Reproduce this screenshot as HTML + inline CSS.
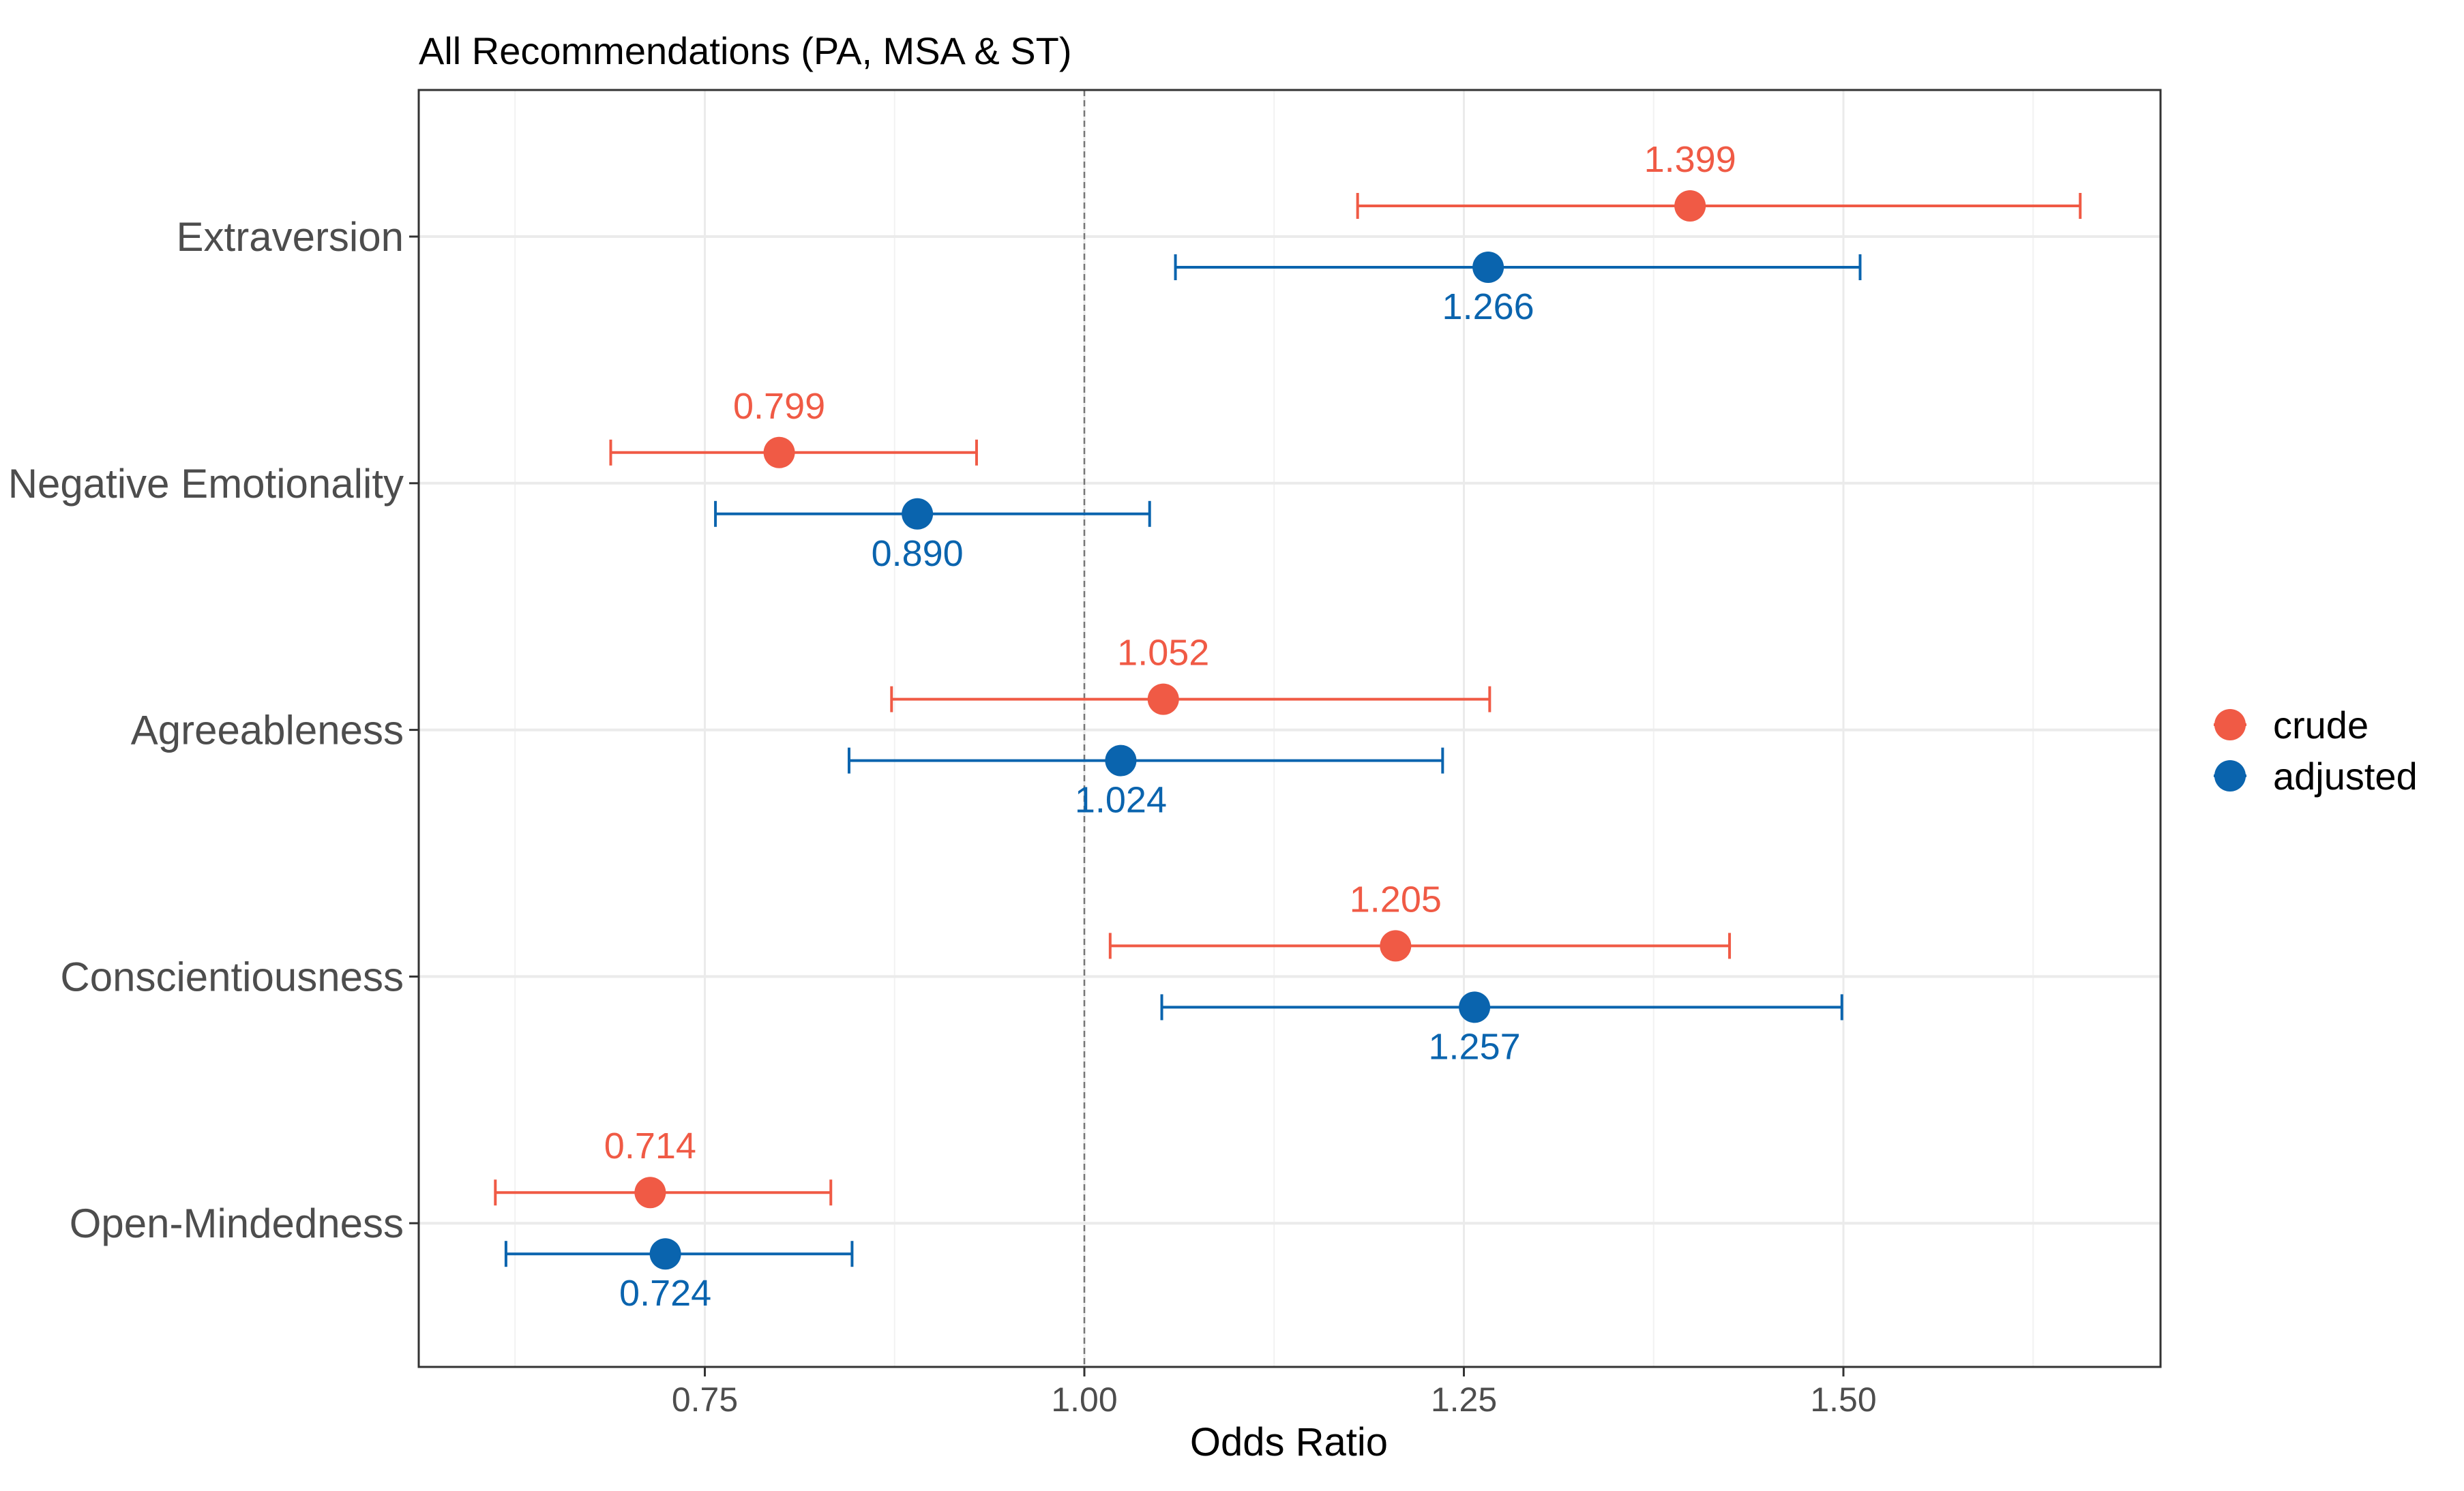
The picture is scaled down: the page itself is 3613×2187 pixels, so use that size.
<!DOCTYPE html>
<html><head><meta charset="utf-8"><style>
html,body{margin:0;padding:0;background:#fff}
svg{display:block;font-family:"Liberation Sans",Arial,sans-serif}
</style></head><body>
<svg id="chart" width="3613" height="2187" viewBox="0 0 3613 2187" xmlns="http://www.w3.org/2000/svg">
<rect x="0" y="0" width="3613" height="2187" fill="#fff"/>
<text x="614" y="94" font-size="56" fill="#000">All Recommendations (PA, MSA &amp; ST)</text>
<g id="grid"></g>
<g id="marks"></g>
<rect x="614" y="132" width="2554" height="1873" fill="none" stroke="#333" stroke-width="3"/>
<g id="axes"></g>
<text x="1890" y="2135" font-size="58" text-anchor="middle" fill="#000">Odds Ratio</text>
<g>
<g>
<line x1="3246" y1="1063" x2="3294" y2="1063" stroke="#f05a45" stroke-width="4"/>
<circle cx="3270" cy="1063" r="23" fill="#f05a45"/>
<text x="3333" y="1083" font-size="56" fill="#000">crude</text></g>
<g>
<line x1="3246" y1="1138" x2="3294" y2="1138" stroke="#0a64ae" stroke-width="4"/>
<circle cx="3270" cy="1138" r="23" fill="#0a64ae"/>
<text x="3333" y="1158" font-size="56" fill="#000">adjusted</text></g>
</g>
</svg>
<script>
const categories = ["Extraversion","Negative Emotionality","Agreeableness","Conscientiousness","Open-Mindedness"];
const crudeEst = [1.399,0.799,1.052,1.205,0.714];
const crudeLo = [1.180,0.688,0.873,1.017,0.612];
const crudeHi = [1.656,0.929,1.267,1.425,0.833];
const adjEst = [1.266,0.890,1.024,1.257,0.724];
const adjLo = [1.060,0.757,0.845,1.051,0.619];
const adjHi = [1.511,1.043,1.236,1.499,0.847];
const majorTicks = [0.75,1.00,1.25,1.50];
const tickLabels = ["0.75","1.00","1.25","1.50"];
const minorTicks = [0.625,0.875,1.125,1.375,1.625];

const NS="http://www.w3.org/2000/svg";
const L=614,T=132,R=3168,B=2005;
function xs(v){return 1590+(v-1)*2226;}
function ys(i){return 347+i*361.8;}
function mk(parent,tag,attrs){const e=document.createElementNS(NS,tag);for(const k in attrs)e.setAttribute(k,attrs[k]);parent.appendChild(e);return e;}
const grid=document.getElementById('grid'),marks=document.getElementById('marks'),axes=document.getElementById('axes');
minorTicks.forEach(v=>{const l=mk(grid,'line',{x1:xs(v),x2:xs(v),y1:T,y2:B,stroke:'#f2f2f2','stroke-width':2});

});
majorTicks.forEach(v=>{const l=mk(grid,'line',{x1:xs(v),x2:xs(v),y1:T,y2:B,stroke:'#ebebeb','stroke-width':3});

});
categories.forEach((c,i)=>{const l=mk(grid,'line',{x1:L,x2:R,y1:ys(i),y2:ys(i),stroke:'#ebebeb','stroke-width':4});

});
const ref=mk(grid,'line',{x1:xs(1),x2:xs(1),y1:T,y2:B,stroke:'#777','stroke-width':2.5,'stroke-dasharray':'9,6'});



function series(est,lo,hi,off,color,labOff,name){
 est.forEach((v,i)=>{
  const y=ys(i)+off;
  const g=mk(marks,'g',{});
  
  
  mk(g,'line',{x1:xs(lo[i]),x2:xs(hi[i]),y1:y,y2:y,stroke:color,'stroke-width':4});
  mk(g,'line',{x1:xs(lo[i]),x2:xs(lo[i]),y1:y-19,y2:y+19,stroke:color,'stroke-width':4});
  mk(g,'line',{x1:xs(hi[i]),x2:xs(hi[i]),y1:y-19,y2:y+19,stroke:color,'stroke-width':4});
  mk(g,'circle',{cx:xs(v),cy:y,r:23,fill:color});
  const t=mk(g,'text',{x:xs(v),y:y+labOff,'font-size':54,'text-anchor':'middle',fill:color});
  t.textContent=v.toFixed(3);
 });
}
series(crudeEst,crudeLo,crudeHi,-45,'#f05a45',-50,'crude-point');
series(adjEst,adjLo,adjHi,45,'#0a64ae',76,'adjusted-point');

categories.forEach((c,i)=>{
 mk(axes,'line',{x1:600,x2:L,y1:ys(i),y2:ys(i),stroke:'#333','stroke-width':3});
 const t=mk(axes,'text',{x:592,y:ys(i)+21,'font-size':60,'text-anchor':'end',fill:'#4d4d4d'});
 
 
 t.textContent=c;
});
majorTicks.forEach((v,i)=>{
 mk(axes,'line',{x1:xs(v),x2:xs(v),y1:B,y2:B+14,stroke:'#333','stroke-width':3});
 const t=mk(axes,'text',{x:xs(v),y:B+65,'font-size':50,'text-anchor':'middle',fill:'#4d4d4d'});
 
 
 t.textContent=tickLabels[i];
});
</script>
</body></html>
